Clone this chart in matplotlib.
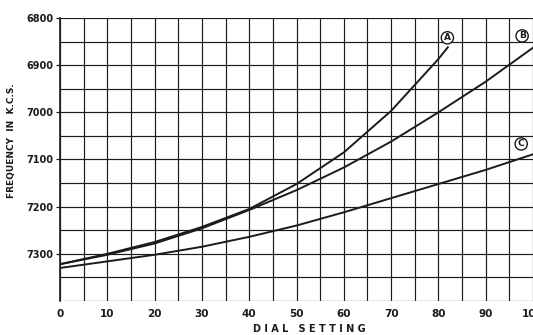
import matplotlib
matplotlib.use("Agg")
import matplotlib.pyplot as plt
import numpy as np

# values (dial setting vs frequency in kc/s)
dial_a = [0, 10, 20, 30, 40, 50, 60, 70, 80, 82]
freq_a = [7322, 7300, 7275, 7243, 7205, 7152, 7085, 6997, 6887, 6862]

dial_b = [0, 10, 20, 30, 40, 50, 60, 70, 80, 90, 100]
freq_b = [7322, 7302, 7278, 7246, 7207, 7165, 7117, 7062, 7000, 6935, 6863]

dial_c = [0, 10, 20, 30, 40, 50, 60, 70, 80, 90, 100]
freq_c = [7330, 7316, 7302, 7285, 7264, 7240, 7212, 7182, 7152, 7122, 7089]

x_ticks = [0, 10, 20, 30, 40, 50, 60, 70, 80, 90, 100]
y_ticks = [6800, 6900, 7000, 7100, 7200, 7300]

ink = "#1e1a18"

fig = plt.figure(figsize=(5.33, 3.35), dpi=100)
ax = fig.add_axes([0.1126, 0.1015, 0.8874, 0.8448])

# grid: every 5 dial units, every 50 kc/s
for gx in np.arange(0, 101, 5):
    ax.axvline(gx, color=ink, lw=0.85, zorder=1)
for gy in np.arange(6800, 7401, 50):
    ax.axhline(gy, color=ink, lw=0.85, zorder=1)

ax.plot(dial_a, freq_a, color=ink, lw=1.4, zorder=3)
ax.plot(dial_b, freq_b, color=ink, lw=1.4, zorder=3)
ax.plot(dial_c, freq_c, color=ink, lw=1.4, zorder=3)

# circled curve letters
for lbl, x, y in [("A", 81.9, 6842), ("B", 97.7, 6838), ("C", 97.5, 7067)]:
    ax.text(x, y, lbl, fontsize=6.5, fontweight="bold", ha="center", va="center",
            color=ink, zorder=5,
            bbox=dict(boxstyle="circle,pad=0.18", fc="white", ec=ink, lw=1.0))

ax.set_xlim(0, 100)
ax.set_ylim(7400, 6800)
ax.set_xticks(x_ticks)
ax.set_xticklabels([str(v) for v in x_ticks], fontsize=7.5, fontweight="bold", color=ink)
ax.set_yticks(y_ticks)
ax.set_yticklabels([str(v) for v in y_ticks], fontsize=7, fontweight="bold", color=ink)
ax.tick_params(axis="x", length=0, pad=6)
ax.tick_params(axis="y", length=3, width=0.9, color=ink, pad=2)
for s in ax.spines.values():
    s.set_visible(False)
ax.spines["left"].set_visible(True)
ax.spines["left"].set_color(ink)
ax.spines["left"].set_linewidth(1.2)

fig.text(0.58, 0.004, "D I A L   S E T T I N G", fontsize=7, fontweight="bold",
         ha="center", va="bottom", color=ink)
fig.text(0.022, 0.58, "FREQUENCY  IN  K.C.S.", fontsize=6.5, fontweight="bold",
         rotation=90, ha="center", va="center", color=ink)

fig.savefig("out.png", dpi=100)
